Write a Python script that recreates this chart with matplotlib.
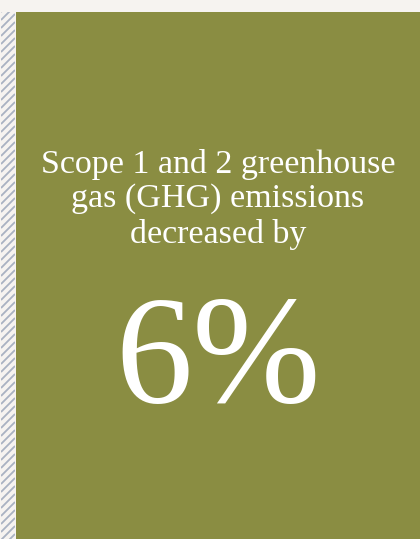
import matplotlib
matplotlib.use("Agg")
import matplotlib.pyplot as plt
from matplotlib.patches import Rectangle

headline_lines = ["Scope 1 and 2 greenhouse", "gas (GHG) emissions", "decreased by"]
reduction_pct = 6

W, H = 420, 539
fig = plt.figure(figsize=(W / 100, H / 100), dpi=100)
fig.patch.set_facecolor("#f6f3f0")
ax = fig.add_axes([0, 0, 1, 1])
ax.set_xlim(0, W)
ax.set_ylim(H, 0)
ax.axis("off")

# Hatched strip along the left edge
strip = Rectangle((1, 12), 14, H - 12, facecolor="#f6f3f0", edgecolor="none")
ax.add_patch(strip)
for y0 in range(12, H + 30, 8):
    ln, = ax.plot([1, 15], [y0, y0 - 14], color="#a9b2c2", lw=1.3, solid_capstyle="butt")
    ln.set_clip_path(strip)

# Green panel
ax.add_patch(Rectangle((16, 12), W - 16, H - 12, facecolor="#8a8d42", edgecolor="none"))

font = ["Liberation Serif", "DejaVu Serif"]
cx = 218
for i, line in enumerate(headline_lines):
    ax.text(cx, 164 + i * 35, line, ha="center", va="center", color="white",
            fontsize=24.5, family=font)

ax.text(cx, 365, f"{reduction_pct}%", ha="center", va="center", color="white",
        fontsize=111, family=font)

fig.savefig("out.png", dpi=100, facecolor=fig.get_facecolor())
